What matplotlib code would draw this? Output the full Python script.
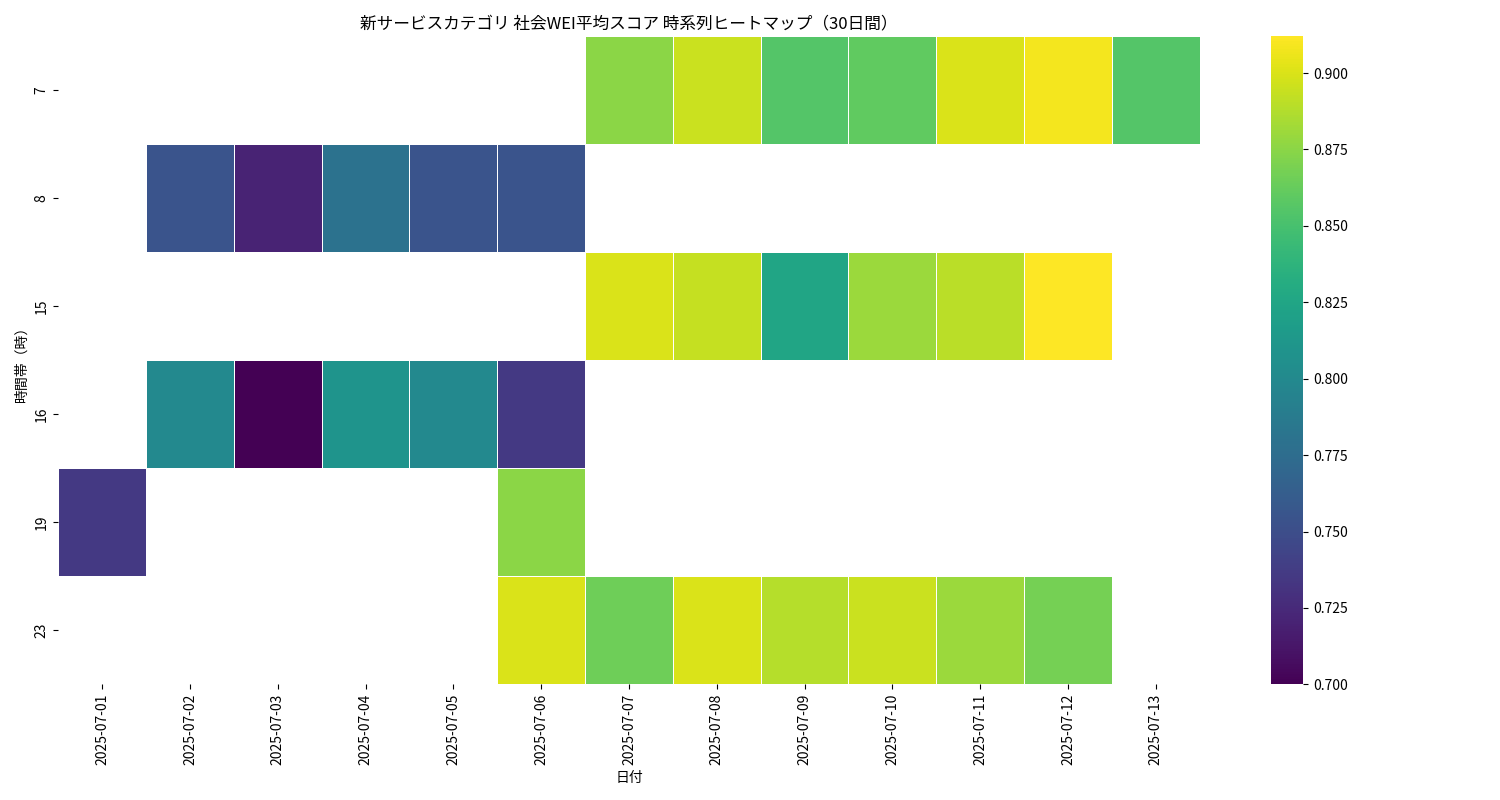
import numpy as np
import pandas as pd
import matplotlib
matplotlib.use("Agg")
import matplotlib.pyplot as plt
import seaborn as sns

plt.rcParams["font.family"] = ["Noto Sans CJK JP", "DejaVu Sans"]

dates = [f"2025-07-{d:02d}" for d in range(1, 14)]
hours = [7, 8, 15, 16, 19, 23]
nan = np.nan

# one list per hour row, aligned with dates
row_7 = [nan, nan, nan, nan, nan, nan, 0.875, 0.895, 0.855, 0.860, 0.900, 0.908, 0.855]
row_8 = [nan, 0.755, 0.720, 0.780, 0.755, 0.755, nan, nan, nan, nan, nan, nan, nan]
row_15 = [nan, nan, nan, nan, nan, nan, 0.900, 0.893, 0.825, 0.880, 0.890, 0.912, nan]
row_16 = [nan, 0.800, 0.700, 0.810, 0.800, 0.735, nan, nan, nan, nan, nan, nan, nan]
row_19 = [0.735, nan, nan, nan, nan, 0.875, nan, nan, nan, nan, nan, nan, nan]
row_23 = [nan, nan, nan, nan, nan, 0.900, 0.865, 0.900, 0.888, 0.895, 0.880, 0.868, nan]

df = pd.DataFrame([row_7, row_8, row_15, row_16, row_19, row_23], index=hours, columns=dates)

fig, ax = plt.subplots(figsize=(15, 8), dpi=100)
sns.heatmap(df, cmap="viridis", linewidths=0.5, linecolor="white", ax=ax)
ax.set_title("新サービスカテゴリ 社会WEI平均スコア 時系列ヒートマップ（30日間）", fontsize=12)
ax.set_xlabel("日付")
ax.set_ylabel("時間帯（時）")
plt.setp(ax.get_xticklabels(), rotation=90)
plt.tight_layout()
plt.savefig("out.png")
